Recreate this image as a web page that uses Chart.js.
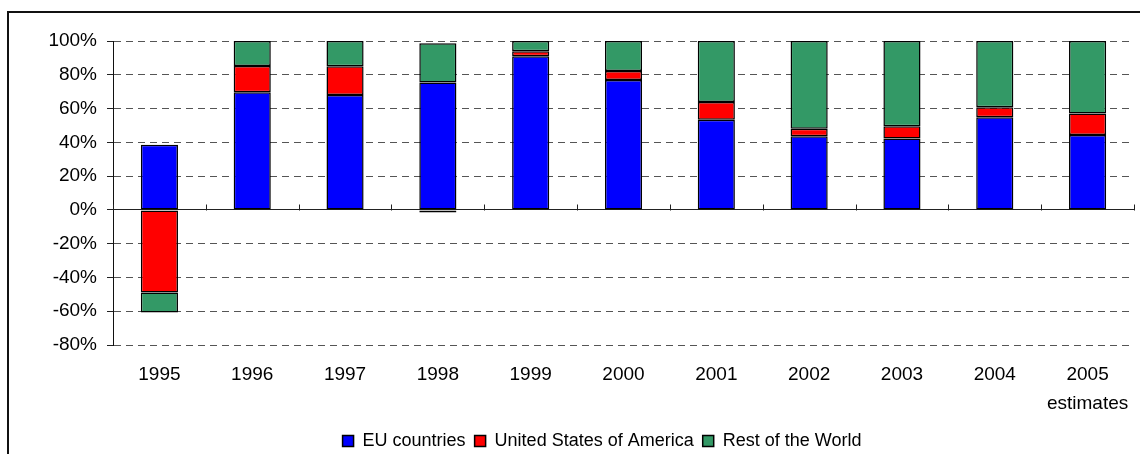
<!DOCTYPE html>
<html>
<head>
<meta charset="utf-8">
<script src="https://cdn.jsdelivr.net/npm/chart.js@4.4.1/dist/chart.umd.min.js"></script>
<style>
  html, body { margin: 0; padding: 0; background: #fff; overflow: hidden; width: 1140px; height: 454px; }
  #frame { position: absolute; left: 7px; top: 11px; width: 1200px; height: 500px; border: 2px solid #111; box-sizing: border-box; }
  #wrap { position: absolute; left: 8px; top: 12px; width: 1184px; height: 448px; }
</style>
</head>
<body>
<div id="frame"></div>
<div id="wrap"><canvas id="c" width="1184" height="448"></canvas></div>
<script>
const categories = ['1995', '1996', '1997', '1998', '1999', '2000', '2001', '2002', '2003', '2004', ['2005', 'estimates']];
const euCountries = [38.5, 69.6, 68.0, 75.5, 90.9, 76.9, 53.3, 43.6, 42.2, 54.8, 44.4];
const unitedStates = [-48.9, 15.6, 17.0, -1.5, 3.1, 5.3, 10.6, 4.5, 7.3, 5.9, 12.6];
const restOfWorld = [-11.8, 14.8, 15.0, 23.1, 6.0, 17.8, 36.1, 51.9, 50.5, 39.3, 43.0];
const seriesNames = ['EU countries', 'United States of America', 'Rest of the World'];
const yMin = -80, yMax = 100, yStep = 20;

const FONT = "Arial, 'Liberation Sans', sans-serif";

const zeroTicks = {
  id: 'zeroTicks',
  afterDatasetsDraw(chart) {
    const x = chart.scales.x, y = chart.scales.y;
    const y0 = Math.round(y.getPixelForValue(0)) + 0.5;
    const n = categories.length;
    const ctx = chart.ctx;
    ctx.save();
    ctx.strokeStyle = '#222';
    ctx.lineWidth = 1;
    ctx.beginPath();
    for (let i = 0; i <= n; i++) {
      const px = Math.round(x.left + i * x.width / n) + 0.5;
      ctx.moveTo(px, y0);
      ctx.lineTo(px, y0 - 6);
    }
    ctx.stroke();
    ctx.restore();
  }
};

// centre the legend on the full (original, wider) figure rather than on the padded area
const legendShift = {
  id: 'legendShift',
  afterLayout(chart) {
    const lg = chart.legend;
    if (lg) { lg.left += 31; lg.right += 31; }
  }
};

new Chart(document.getElementById('c'), {
  type: 'bar',
  data: {
    labels: categories,
    datasets: [
      { label: seriesNames[0], data: euCountries, backgroundColor: '#0000FF' },
      { label: seriesNames[1], data: unitedStates, backgroundColor: '#FF0000' },
      { label: seriesNames[2], data: restOfWorld, backgroundColor: '#339966' }
    ].map(d => Object.assign(d, { borderColor: '#000', borderWidth: 1.5, borderSkipped: false, inflateAmount: 0, barPercentage: 0.4, categoryPercentage: 1.0 }))
  },
  options: {
    responsive: false,
    animation: false,
    devicePixelRatio: 1,
    layout: { padding: { top: 29, right: 58, left: 0, bottom: 0 } },
    plugins: {
      tooltip: { enabled: false },
      legend: {
        position: 'bottom',
        labels: {
          font: { family: FONT, size: 18 },
          color: '#000',
          boxWidth: 11,
          boxHeight: 11,
          padding: 9
        }
      }
    },
    scales: {
      x: {
        stacked: true,
        grid: { display: false, drawTicks: false },
        border: { display: false },
        ticks: {
          font: { family: FONT, size: 19, lineHeight: 1.5 },
          color: '#000',
          padding: 16,
          maxRotation: 0,
          autoSkip: false
        },
        afterFit(scale) { scale.height = 78; }
      },
      y: {
        stacked: true,
        min: yMin,
        max: yMax,
        ticks: {
          stepSize: yStep,
          font: { family: FONT, size: 19 },
          color: '#000',
          padding: 10,
          callback: v => v + '%'
        },
        grid: {
          color: ctx => ctx.tick && ctx.tick.value === 0 ? '#222' : '#555',
          tickColor: '#222',
          tickLength: 6,
          lineWidth: 1
        },
        border: {
          display: true,
          color: '#111',
          width: 1,
          dash: ctx => ctx.tick && ctx.tick.value === 0 ? [] : [7, 5]
        },
        afterFit(scale) { scale.width = 105; }
      }
    }
  },
  plugins: [zeroTicks, legendShift]
});
</script>
</body>
</html>
